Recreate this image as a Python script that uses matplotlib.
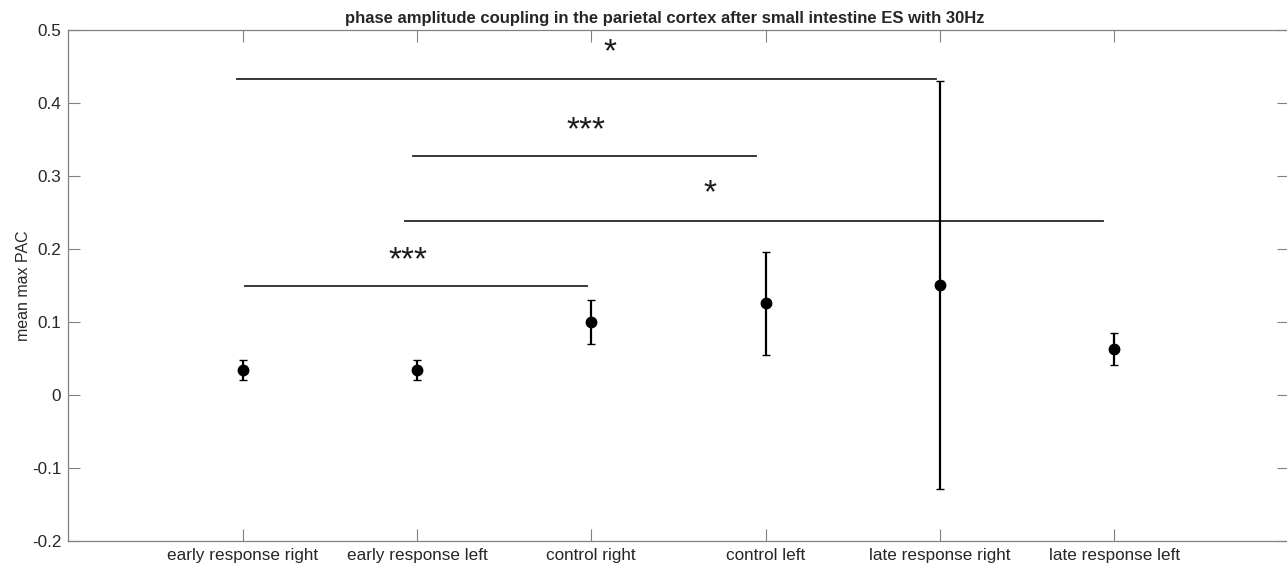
import matplotlib.pyplot as plt
import numpy as np

plt.rcParams["font.family"] = ["Liberation Sans", "DejaVu Sans"]

categories = ["early response right", "early response left", "control right",
              "control left", "late response right", "late response left"]
means = [0.0345, 0.0345, 0.100, 0.1255, 0.151, 0.063]
errors = [0.0141, 0.0141, 0.0295, 0.0705, 0.279, 0.0225]

# significance bars: start, end, height, label, label x, label y
sig_start = [0.97, 1.977, 1.929, 1.014]
sig_end = [4.975, 3.948, 5.936, 2.978]
sig_y = [0.4323, 0.3266, 0.2385, 0.149]
sig_text = ["*", "***", "*", "***"]
sig_text_x = [3.11, 2.972, 3.684, 1.950]
sig_text_y = [0.468, 0.361, 0.2755, 0.1835]

W, H = 1287, 568
fig = plt.figure(figsize=(W / 100, H / 100), dpi=100)
ax = fig.add_axes([68.3 / W, (H - 541.3) / H, (1288.5 - 68.3) / W, (541.3 - 29.5) / H])

x = np.arange(1, len(categories) + 1)
ax.errorbar(x, means, yerr=errors, fmt="o", color="black", ms=7.5,
            elinewidth=1.6, capsize=2.6, capthick=1.0, zorder=3)

for s, e, y, t, tx, ty in zip(sig_start, sig_end, sig_y, sig_text, sig_text_x, sig_text_y):
    ax.plot([s, e], [y, y], color="#262626", lw=1.3)
    ax.text(tx, ty, t, ha="center", va="center", fontsize=24, color="#1a1a1a")

ax.set_xlim(0, 7)
ax.set_ylim(-0.2, 0.5)
ax.set_xticks(x, categories)
ax.set_yticks(np.round(np.arange(-0.2, 0.51, 0.1), 1))
ax.set_yticklabels(["-0.2", "-0.1", "0", "0.1", "0.2", "0.3", "0.4", "0.5"])
ax.tick_params(direction="in", length=8.5, width=0.8, color="#808080",
               labelsize=12.3, labelcolor="#262626", top=True, right=True, pad=5)
for sp in ax.spines.values():
    sp.set_color("#808080")
    sp.set_linewidth(0.9)

ax.set_ylabel("mean max PAC", fontsize=11.5, color="#262626", labelpad=1)
ax.set_title("phase amplitude coupling in the parietal cortex after small intestine ES with 30Hz",
             fontsize=12, fontweight="bold", color="#262626", pad=5, x=0.489)

fig.savefig("out.png", dpi=100)
